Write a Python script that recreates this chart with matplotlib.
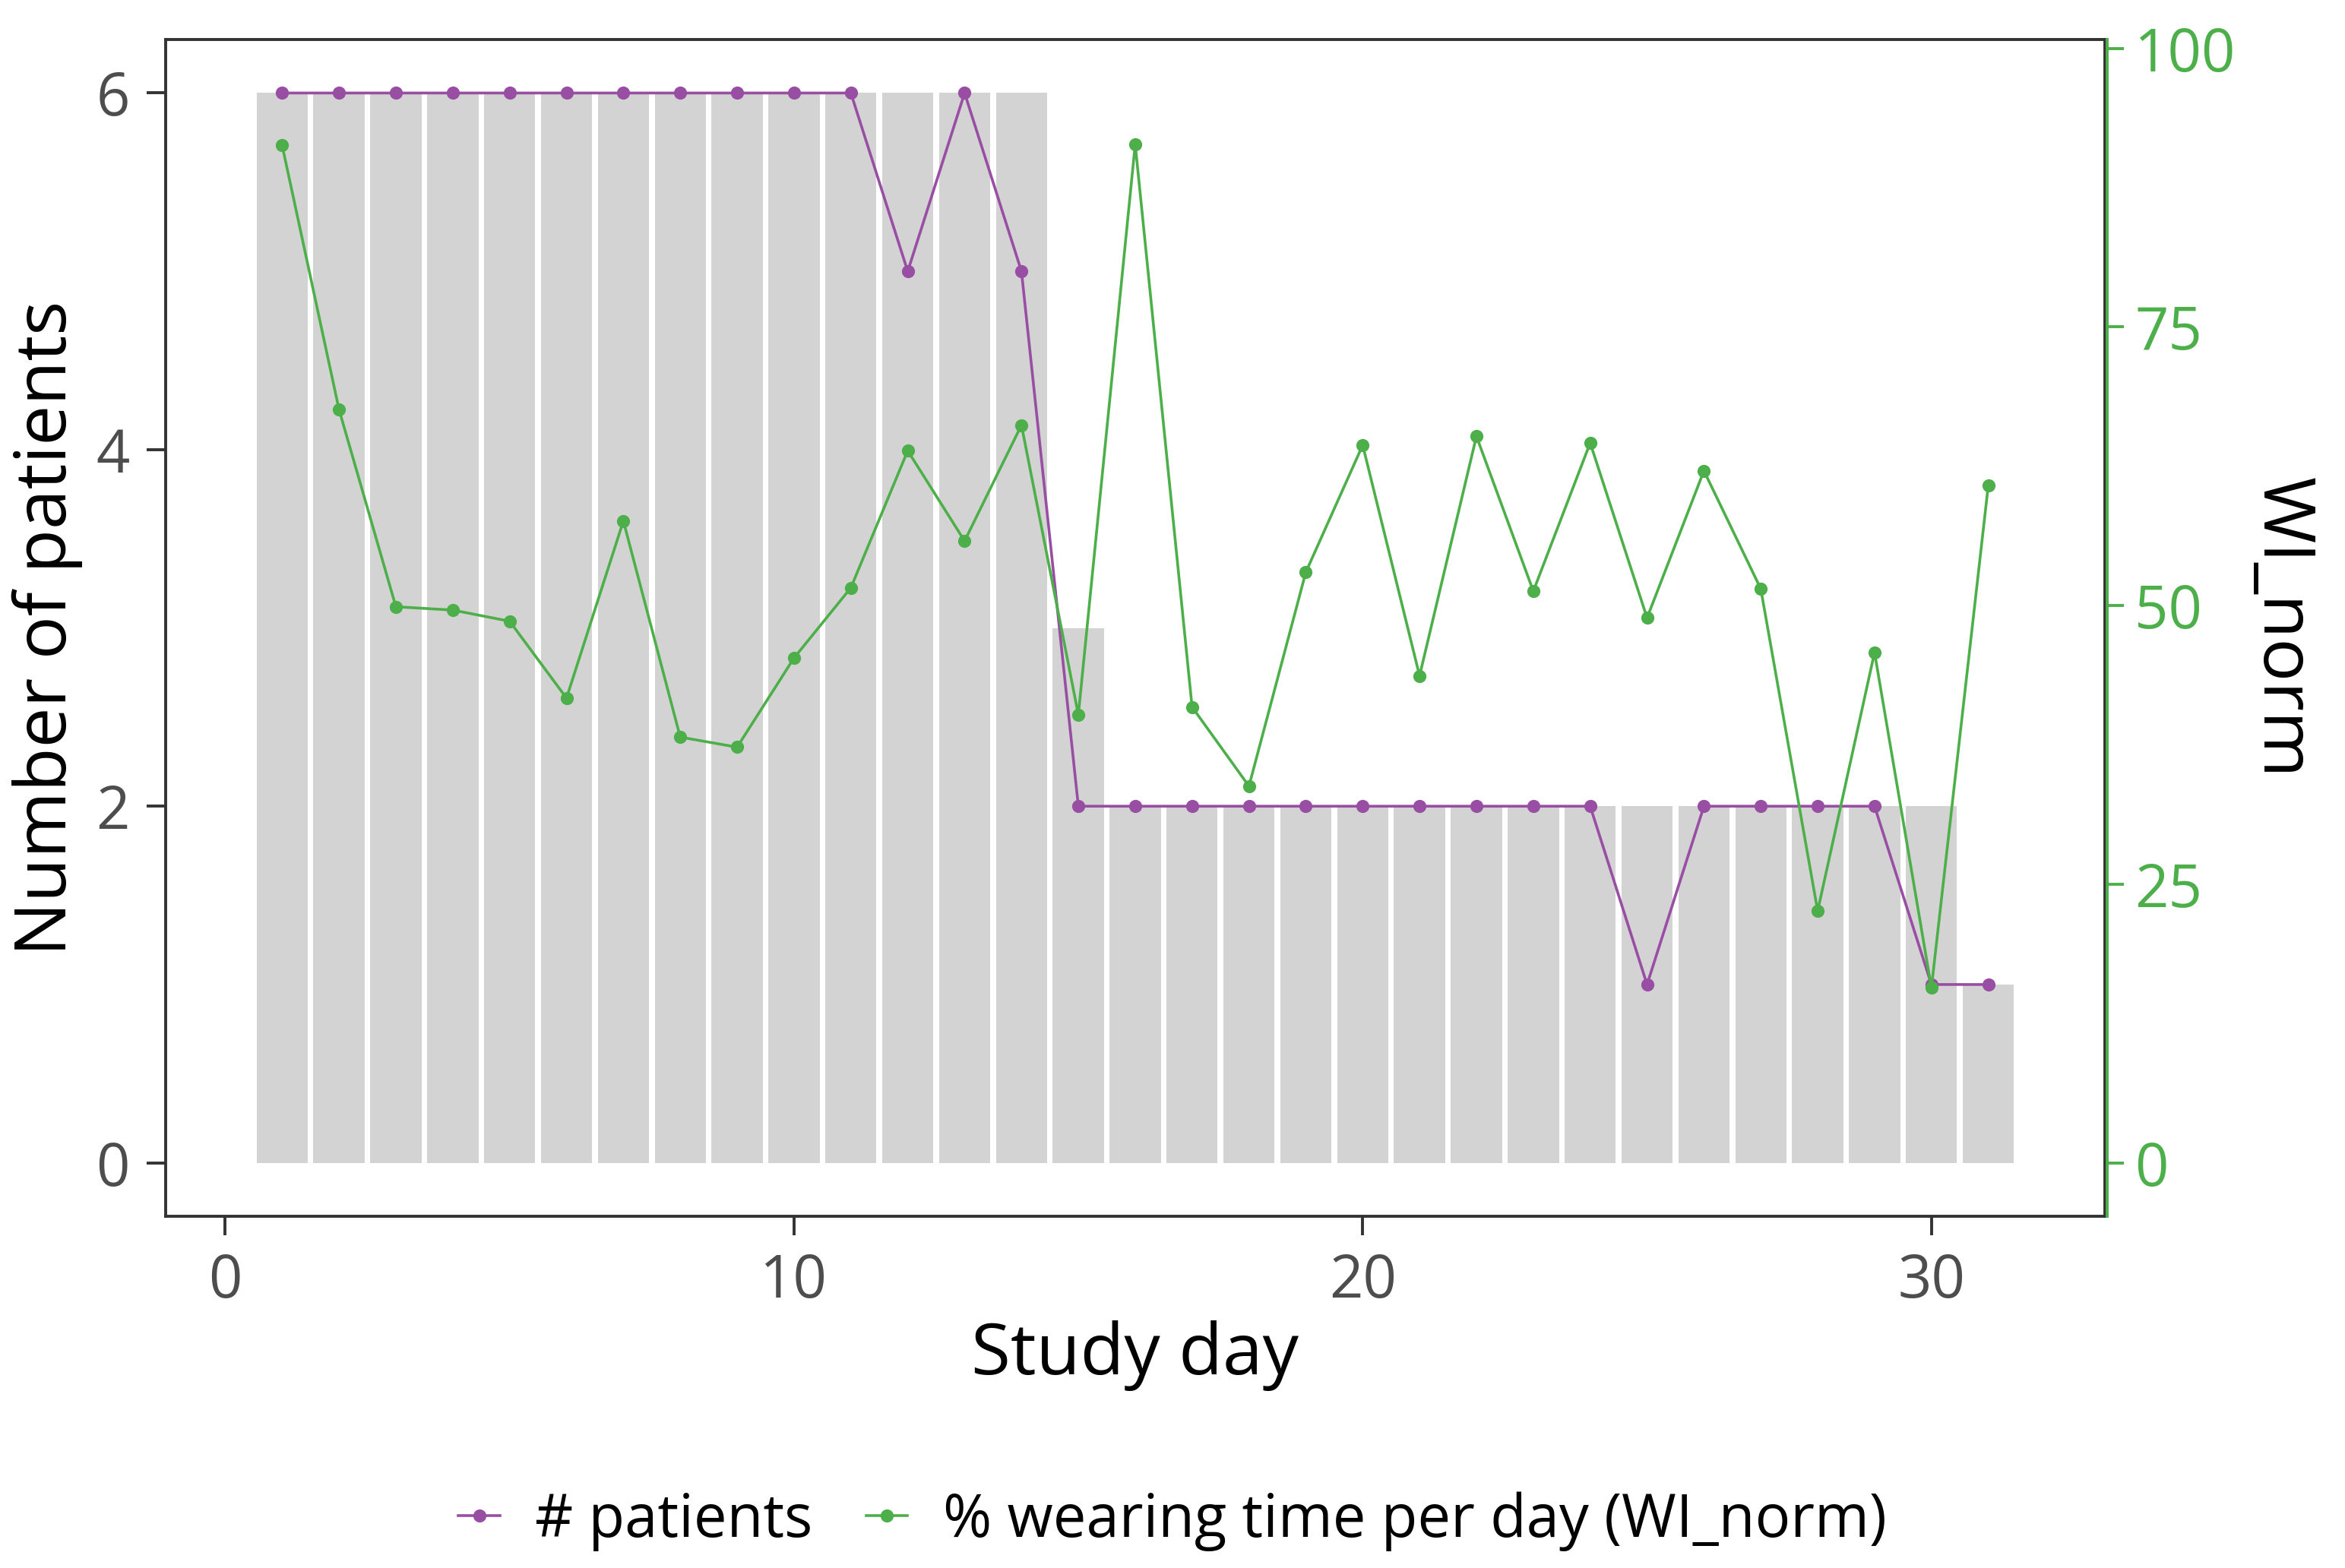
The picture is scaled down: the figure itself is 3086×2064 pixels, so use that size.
import matplotlib
matplotlib.use("Agg")
import matplotlib.pyplot as plt
from matplotlib.lines import Line2D

plt.rcParams['font.family'] = ['Open Sans', 'DejaVu Sans']

# data
days = list(range(1, 32))
bar_patients = [6] * 14 + [3] + [2] * 15 + [1]
n_patients = [6, 6, 6, 6, 6, 6, 6, 6, 6, 6, 6, 5, 6, 5,
              2, 2, 2, 2, 2, 2, 2, 2, 2, 2, 1, 2, 2, 2, 2, 1, 1]
wi_norm = [91.3, 67.6, 49.9, 49.6, 48.6, 41.7, 57.6, 38.2, 37.3, 45.3,
           51.6, 63.9, 55.8, 66.2, 40.2, 91.4, 40.9, 33.8, 53.0, 64.4,
           43.7, 65.2, 51.3, 64.6, 48.9, 62.1, 51.5, 22.6, 45.8, 15.7, 60.8]
sec_factor = 16

purple = '#984EA3'
green = '#4DAF4A'
dark = '#333333'
grey_txt = '#4D4D4D'

fig = plt.figure(figsize=(15.43, 10.32), dpi=200)
ax = fig.add_axes([0.0706, 0.2243, 0.8270, 0.7505])

ax.bar(days, bar_patients, width=0.9, color='#D3D3D3', zorder=1)
ax.plot(days, n_patients, color=purple, lw=1.3, marker='o', ms=5.2, zorder=3)

ax.set_xlim(-1.05, 33.05)
ax.set_ylim(-0.3, 6.3)
ax.set_xticks([0, 10, 20, 30])
ax.set_yticks([0, 2, 4, 6])
ax.tick_params(axis='both', length=9, width=1.4, color=dark, labelsize=28,
               labelcolor=grey_txt, pad=8)
for s in ax.spines.values():
    s.set_color(dark)
    s.set_linewidth(1.4)

ax.set_xlabel('Study day', fontsize=34, labelpad=4)
ax.set_ylabel('Number of patients', fontsize=34, labelpad=6)

ax2 = ax.twinx()
ax2.plot(days, wi_norm, color=green, lw=1.3, marker='o', ms=5.2, zorder=4)
ax2.set_ylim(-0.3 * sec_factor, 6.3 * sec_factor)
ax2.set_yticks([0, 25, 50, 75, 100])
ax2.tick_params(axis='y', length=8, width=1.4, color=green, labelsize=28,
                labelcolor=green, pad=5)
for k in ['top', 'left', 'bottom']:
    ax2.spines[k].set_visible(False)
ax2.spines['right'].set_color(green)
ax2.spines['right'].set_linewidth(1.4)
ax2.spines['right'].set_position(('outward', 1.2))
ax2.set_ylabel('WI_norm', fontsize=34, rotation=270, labelpad=38)

handles = [
    Line2D([], [], color=purple, lw=1.3, marker='o', ms=5.2),
    Line2D([], [], color=green, lw=1.3, marker='o', ms=5.2),
]
fig.legend(handles, ['# patients', '% wearing time per day (WI_norm)'],
           loc='center', bbox_to_anchor=(0.5, 0.03), ncol=2, frameon=False,
           fontsize=28, handlelength=0.7, handletextpad=0.6, columnspacing=0.9)

fig.savefig('out.png', dpi=200)
